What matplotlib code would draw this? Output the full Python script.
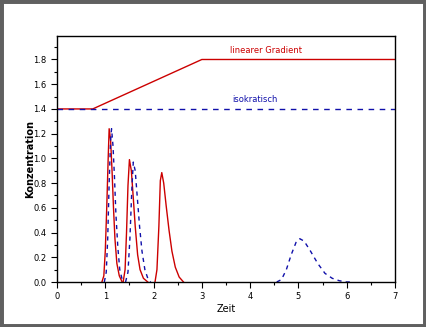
import matplotlib
matplotlib.use('Agg')
import matplotlib.pyplot as plt
from matplotlib.patches import Rectangle
from matplotlib.ticker import MultipleLocator

# solvent programmes
grad_t = [0, 0.74, 3.0, 7.0]
grad_c = [1.4, 1.4, 1.8, 1.8]
iso_t = [0, 7.0]
iso_c = [1.4, 1.4]

# gradient elution peaks (red)
grad_peaks = [
    ([0.93, 0.97, 1.00, 1.03, 1.06, 1.08, 1.11, 1.14, 1.17, 1.20, 1.24, 1.29, 1.35],
     [0.0, 0.05, 0.25, 0.6, 1.0, 1.24, 1.15, 0.9, 0.6, 0.35, 0.15, 0.05, 0.0]),
    ([1.37, 1.41, 1.44, 1.47, 1.50, 1.54, 1.58, 1.62, 1.67, 1.72, 1.79, 1.88],
     [0.0, 0.1, 0.4, 0.78, 0.99, 0.9, 0.68, 0.45, 0.22, 0.1, 0.03, 0.0]),
    ([2.03, 2.07, 2.11, 2.14, 2.17, 2.21, 2.26, 2.32, 2.38, 2.45, 2.53, 2.62],
     [0.0, 0.1, 0.45, 0.82, 0.885, 0.8, 0.62, 0.42, 0.25, 0.12, 0.04, 0.0]),
]

# isocratic elution peaks (blue)
iso_peaks = [
    ([0.98, 1.02, 1.05, 1.08, 1.11, 1.13, 1.16, 1.19, 1.22, 1.26, 1.30, 1.35, 1.38],
     [0.0, 0.08, 0.35, 0.8, 1.15, 1.24, 1.1, 0.85, 0.55, 0.28, 0.1, 0.02, 0.0]),
    ([1.42, 1.47, 1.51, 1.55, 1.58, 1.62, 1.66, 1.71, 1.76, 1.82, 1.88, 1.94],
     [0.0, 0.08, 0.35, 0.75, 0.97, 0.9, 0.7, 0.45, 0.25, 0.1, 0.03, 0.0]),
    ([4.55, 4.65, 4.75, 4.85, 4.95, 5.03, 5.12, 5.25, 5.40, 5.55, 5.70, 5.85, 6.00, 6.10],
     [0.0, 0.02, 0.1, 0.22, 0.32, 0.35, 0.33, 0.25, 0.15, 0.07, 0.03, 0.01, 0.0, 0.0]),
]

red = '#cc0000'
blue = '#1010aa'

fig = plt.figure(figsize=(4.26, 3.27), dpi=100)
fig.patches.append(Rectangle((0, 0), 1, 1, transform=fig.transFigure,
                             fill=False, edgecolor='#606060', linewidth=5))
ax = fig.add_axes([0.1338, 0.1376, 0.7934, 0.7523])

ax.plot(grad_t, grad_c, color=red, lw=1.0)
ax.plot(iso_t, iso_c, color=blue, lw=1.0, dashes=(4, 4))
for t, c in grad_peaks:
    ax.plot(t, c, color=red, lw=1.0)
for t, c in iso_peaks:
    ax.plot(t, c, color=blue, lw=1.0, dashes=(3, 3))

ax.text(3.58, 1.875, 'linearer Gradient', color=red, fontsize=6, va='center')
ax.text(3.62, 1.48, 'isokratisch', color=blue, fontsize=6, va='center')

ax.set_xlim(0, 7)
ax.set_ylim(0, 1.99)
ax.xaxis.set_major_locator(MultipleLocator(1))
ax.xaxis.set_minor_locator(MultipleLocator(0.5))
ax.yaxis.set_minor_locator(MultipleLocator(0.1))
ax.set_yticks([0.0, 0.2, 0.4, 0.6, 0.8, 1.0, 1.2, 1.4, 1.6, 1.8])
ax.set_yticklabels(['0.0', '0.2', '0.4', '0.6', '0.8', '1.0', '1.2', '1.4', '1.6', '1.8'])
ax.tick_params(which='both', direction='out', labelsize=6, width=0.8)
ax.tick_params(which='major', length=4)
ax.tick_params(which='minor', length=2)
ax.set_xlabel('Zeit', fontsize=7, labelpad=2)
ax.set_ylabel('Konzentration', fontsize=7, fontweight='bold', labelpad=-1)
for s in ax.spines.values():
    s.set_linewidth(1.0)

fig.savefig('out.png', dpi=100)
